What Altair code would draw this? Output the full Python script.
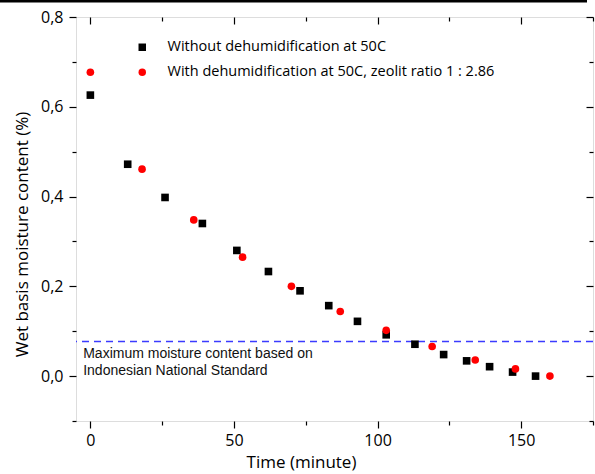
import altair as alt
import pandas as pd

# ---- data ----
series_a = "Without dehumidification at 50C"
series_b = "With dehumidification at 50C, zeolit ratio 1 : 2.86"

time_a = [0, 13, 26, 39, 51, 62, 73, 83, 93, 103, 113, 123, 131, 139, 147, 155]
moist_a = [0.626, 0.472, 0.398, 0.340, 0.280, 0.233, 0.190, 0.157, 0.122, 0.092,
           0.071, 0.048, 0.034, 0.021, 0.009, 0.0]

time_b = [0, 18, 36, 53, 70, 87, 103, 119, 134, 148, 160]
moist_b = [0.677, 0.461, 0.348, 0.265, 0.200, 0.144, 0.102, 0.066, 0.036, 0.016, 0.0]

standard_level = [0.077]
note_x = [-2.5]
note_y = [0.040]
note_lines = [["Maximum moisture content based on", "Indonesian National Standard"]]

x_major = [0, 50, 100, 150]
x_minor = [25, 75, 125, 175]
y_major = [0.0, 0.2, 0.4, 0.6, 0.8]
y_minor = [-0.1, 0.1, 0.3, 0.5, 0.7]

x_domain = [-5, 175]
y_domain = [-0.1, 0.8]

df = pd.DataFrame({
    "series": [series_a] * len(time_a) + [series_b] * len(time_b),
    "t": time_a + time_b,
    "m": moist_a + moist_b,
})
df_std = pd.DataFrame({"m": standard_level})
df_note = pd.DataFrame({"t": note_x, "m": note_y, "label": note_lines})

W, H = 517, 404
FONT = "Open Sans"

xs = alt.Scale(domain=x_domain, nice=False, zero=False)
ys = alt.Scale(domain=y_domain, nice=False, zero=False)


def tick_axis(orient, values, size, inward):
    kw = dict(orient=orient, values=values, tickSize=size, labels=False, domain=False,
              grid=False, title=None, tickColor="black", tickWidth=1.2)
    if inward:
        kw["offset"] = -size
    return alt.Axis(**kw)


legend_kw = dict(title=None, orient="none", legendX=59, legendY=23,
                 labelFont=FONT, labelFontSize=14.5, labelColor="black", labelLimit=0,
                 labelOffset=18, rowPadding=10, padding=0,
                 symbolSize=56, symbolStrokeWidth=0)

points = alt.Chart(df).mark_point(filled=True, size=58, opacity=1).encode(
    x=alt.X("t:Q", scale=xs, axis=alt.Axis(
        orient="bottom", values=x_major, tickSize=7, tickColor="black", tickWidth=1.2,
        domain=False, grid=False, labelFont=FONT, labelFontSize=16, labelColor="black",
        labelPadding=4, title="Time (minute)", titleFont=FONT, titleFontSize=17,
        titleFontWeight="normal", titleColor="black", titleX=225, titleY=46,
        titleBaseline="alphabetic", titleAlign="center")),
    y=alt.Y("m:Q", scale=ys, axis=alt.Axis(
        orient="left", values=y_major, tickSize=7, tickColor="black", tickWidth=1.2,
        domain=False, grid=False, labelFont=FONT, labelFontSize=16, labelColor="black",
        labelPadding=6, labelExpr="replace(format(datum.value, '.1f'), '.', ',')",
        title="Wet basis moisture content (%)", titleFont=FONT, titleFontSize=17,
        titleFontWeight="normal", titleColor="black", titleX=-54, titleY=217,
        titleBaseline="middle", titleAlign="center", titleAngle=270)),
    color=alt.Color("series:N", sort=[series_a, series_b],
                    scale=alt.Scale(domain=[series_a, series_b], range=["#000000", "#ff0000"]),
                    legend=alt.Legend(**legend_kw)),
    shape=alt.Shape("series:N", sort=[series_a, series_b],
                    scale=alt.Scale(domain=[series_a, series_b], range=["square", "circle"]),
                    legend=alt.Legend(**legend_kw)),
)

ghost = alt.Chart(df).mark_point(opacity=0)

minor_bl = ghost.encode(
    x=alt.X("t:Q", scale=xs, axis=tick_axis("bottom", x_minor, 4, False)),
    y=alt.Y("m:Q", scale=ys, axis=tick_axis("left", y_minor, 4, False)),
)
major_tr = ghost.encode(
    x=alt.X("t:Q", scale=xs, axis=tick_axis("top", x_major, 7, True)),
    y=alt.Y("m:Q", scale=ys, axis=tick_axis("right", y_major, 7, True)),
)
minor_tr = ghost.encode(
    x=alt.X("t:Q", scale=xs, axis=tick_axis("top", x_minor, 4, True)),
    y=alt.Y("m:Q", scale=ys, axis=tick_axis("right", y_minor, 4, True)),
)

std_line = alt.Chart(df_std).mark_rule(color="#3b3bff", strokeWidth=1.5,
                                       strokeDash=[7, 5]).encode(
    y=alt.Y("m:Q", scale=ys, axis=None)
)

note = alt.Chart(df_note).mark_text(align="left", baseline="alphabetic",
                                    font="Liberation Sans", fontSize=14,
                                    lineHeight=17, color="#111111").encode(
    x=alt.X("t:Q", scale=xs, axis=None),
    y=alt.Y("m:Q", scale=ys, axis=None),
    text="label",
)

top_bar = alt.Chart(df_std).mark_rule(color="black", strokeWidth=2.5, clip=False).encode(
    x=alt.value(-76), x2=alt.value(511), y=alt.value(-15.8)
)

chart = alt.layer(
    std_line, note, points, minor_bl, major_tr, minor_tr, top_bar
).resolve_axis(x="independent", y="independent").properties(
    width=W, height=H,
    autosize=alt.AutoSizeParams(type="none"),
    padding={"left": 76, "top": 17, "right": 2, "bottom": 53},
).configure_view(stroke="black", strokeWidth=1.2).configure(background="white")

chart.save("out.html", embed_options={"renderer": "svg", "actions": False})
